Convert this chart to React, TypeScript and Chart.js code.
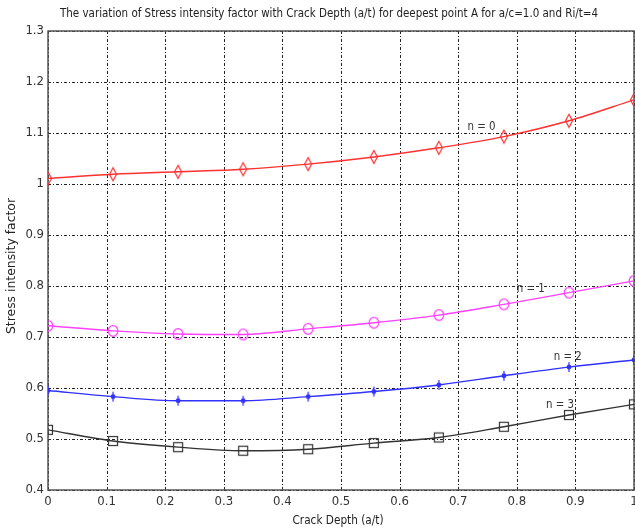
import React, { useEffect, useRef } from "react";
import { Chart, registerables } from "chart.js";
Chart.register(...registerables);

const crackDepth = [0, 0.111, 0.222, 0.333, 0.444, 0.556, 0.667, 0.778, 0.889, 1];
const n0 = [1.011, 1.019, 1.024, 1.029, 1.039, 1.053, 1.071, 1.093, 1.124, 1.165];
const n1 = [0.722, 0.712, 0.706, 0.705, 0.716, 0.728, 0.743, 0.764, 0.787, 0.81];
const n2 = [0.595, 0.583, 0.575, 0.575, 0.583, 0.593, 0.606, 0.624, 0.641, 0.655];
const n3 = [0.518, 0.496, 0.484, 0.477, 0.48, 0.492, 0.503, 0.524, 0.547, 0.568];
const seriesLabels = ["n = 0", "n = 1", "n = 2", "n = 3"];
const seriesColors = ["#ff3030", "#ff40ff", "#3030ff", "#333333"];
const titleText =
  "The variation of Stress intensity factor with Crack Depth (a/t) for deepest point A for a/c=1.0 and Ri/t=4";
const xTitle = "Crack Depth (a/t)";
const yTitle = "Stress intensity factor";

const FONT = "'Liberation Sans Narrow', 'DejaVu Sans Condensed', 'Liberation Sans', Arial, sans-serif";

function makeMarker(kind: string, color: string): HTMLCanvasElement {
  const c = document.createElement("canvas");
  c.width = 14;
  c.height = 16;
  const g = c.getContext("2d")!;
  g.strokeStyle = color;
  g.fillStyle = color;
  g.lineWidth = 1.2;
  const cx = 7, cy = 8;
  if (kind === "diamond") {
    g.beginPath();
    g.moveTo(cx, cy - 6.5);
    g.lineTo(cx + 3.5, cy);
    g.lineTo(cx, cy + 6.5);
    g.lineTo(cx - 3.5, cy);
    g.closePath();
    g.stroke();
  } else if (kind === "circle") {
    g.beginPath();
    g.ellipse(cx, cy, 4.8, 5.3, 0, 0, Math.PI * 2);
    g.stroke();
  } else if (kind === "star") {
    g.beginPath();
    g.moveTo(cx, cy - 5);
    g.lineTo(cx, cy + 5);
    g.stroke();
    g.beginPath();
    g.arc(cx, cy, 2.4, 0, Math.PI * 2);
    g.fill();
  } else {
    g.strokeRect(cx - 4.5, cy - 4.5, 9, 9);
  }
  return c;
}

function fitText(ctx: CanvasRenderingContext2D, text: string, x: number, y: number, width: number) {
  const w = ctx.measureText(text).width;
  ctx.save();
  ctx.translate(x, y);
  ctx.scale(width / w, 1);
  ctx.textAlign = "center";
  ctx.textBaseline = "middle";
  ctx.fillText(text, 0, 0);
  ctx.restore();
}

export default function App() {
  const ref = useRef<HTMLCanvasElement | null>(null);
  useEffect(() => {
    if (!ref.current) return;
    const markers = [
      makeMarker("diamond", seriesColors[0]),
      makeMarker("circle", seriesColors[1]),
      makeMarker("star", seriesColors[2]),
      makeMarker("square", seriesColors[3]),
    ];
    const series = [n0, n1, n2, n3];
    const labelPos = [
      [0.716, 1.112],
      [0.8, 0.794],
      [0.863, 0.661],
      [0.85, 0.567],
    ];

    const decor = {
      id: "decor",
      beforeDatasetsDraw(chart: any) {
        const { ctx, chartArea: a, scales } = chart;
        ctx.save();
        ctx.strokeStyle = "#222";
        ctx.lineWidth = 1;
        ctx.setLineDash([3, 2, 1, 2]);
        scales.x.ticks.forEach((t: any) => {
          const px = Math.round(scales.x.getPixelForValue(t.value)) + 0.5;
          ctx.beginPath();
          ctx.moveTo(px, a.top);
          ctx.lineTo(px, a.bottom);
          ctx.stroke();
        });
        scales.y.ticks.forEach((t: any) => {
          const py = Math.round(scales.y.getPixelForValue(t.value)) + 0.5;
          ctx.beginPath();
          ctx.moveTo(a.left, py);
          ctx.lineTo(a.right, py);
          ctx.stroke();
        });
        ctx.setLineDash([]);
        ctx.strokeStyle = "#555";
        ctx.lineWidth = 1.5;
        ctx.strokeRect(a.left, a.top, a.right - a.left, a.bottom - a.top);
        ctx.restore();
      },
      afterDraw(chart: any) {
        const { ctx, scales } = chart;
        ctx.save();
        ctx.fillStyle = "#222";
        ctx.font = `12px ${FONT}`;
        fitText(ctx, titleText, 329, 14, 538);
        ctx.font = `12px ${FONT}`;
        fitText(ctx, xTitle, 338, 521, 91);
        ctx.save();
        ctx.translate(12, 266);
        ctx.rotate(-Math.PI / 2);
        fitText(ctx, yTitle, 0, 0, 136);
        ctx.restore();
        ctx.font = `13px ${FONT}`;
        ctx.fillStyle = "#333";
        seriesLabels.forEach((s, i) => {
          const px = scales.x.getPixelForValue(labelPos[i][0]);
          const py = scales.y.getPixelForValue(labelPos[i][1]);
          ctx.save();
          ctx.translate(px, py);
          const w = ctx.measureText(s).width;
          ctx.scale(28 / w, 1);
          ctx.textAlign = "left";
          ctx.textBaseline = "middle";
          ctx.fillText(s, 0, 0);
          ctx.restore();
        });
        ctx.restore();
      },
    };

    const fmt = (v: any) => String(Number(Number(v).toFixed(1)));

    const chart = new Chart(ref.current, {
      type: "line",
      data: {
        datasets: series.map((vals, i) => ({
          label: seriesLabels[i],
          data: crackDepth.map((x, j) => ({ x, y: vals[j] })),
          borderColor: seriesColors[i],
          backgroundColor: seriesColors[i],
          borderWidth: 1.4,
          pointStyle: markers[i] as any,
          pointRadius: 6,
          cubicInterpolationMode: "monotone" as const,
          fill: false,
        })),
      },
      options: {
        responsive: false,
        animation: false,
        layout: { autoPadding: false, padding: { top: 31, right: 1, left: 0, bottom: 0 } },
        plugins: {
          legend: { display: false },
          title: { display: false },
          tooltip: { enabled: false },
        },
        scales: {
          x: {
            type: "linear",
            min: 0,
            max: 1,
            grid: { display: false, drawTicks: false },
            border: { display: false },
            ticks: {
              stepSize: 0.1,
              padding: 4,
              color: "#333",
              font: { family: FONT, size: 13 },
              maxRotation: 0,
              autoSkip: false,
              callback: fmt,
            },
            afterFit: (s: any) => {
              s.height = 42;
              s.paddingLeft = 0;
              s.paddingRight = 0;
            },
          },
          y: {
            type: "linear",
            min: 0.4,
            max: 1.3,
            grid: { display: false, drawTicks: false },
            border: { display: false },
            ticks: {
              stepSize: 0.1,
              padding: 4,
              color: "#333",
              font: { family: FONT, size: 13 },
              autoSkip: false,
              callback: fmt,
            },
            afterFit: (s: any) => {
              s.width = 48;
              s.paddingTop = 0;
              s.paddingBottom = 0;
            },
          },
        },
      },
      plugins: [decor],
    } as any);
    return () => chart.destroy();
  }, []);

  return (
    <div style={{ position: "fixed", left: 0, top: 0, width: 635, height: 532, background: "#fff" }}>
      <canvas ref={ref} width={635} height={532} />
    </div>
  );
}
